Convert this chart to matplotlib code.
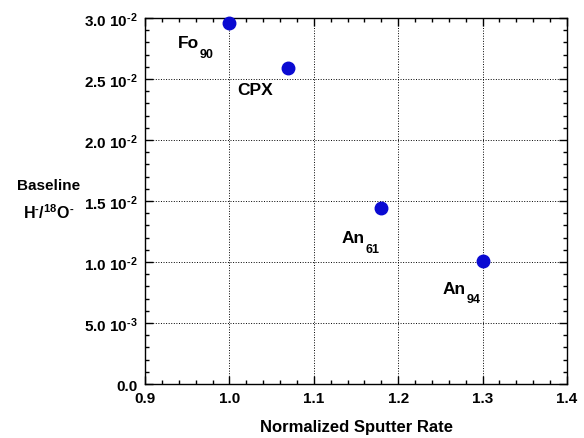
import matplotlib
matplotlib.use("Agg")
import matplotlib.pyplot as plt
from matplotlib.ticker import MultipleLocator, FixedLocator

plt.rcParams['font.family'] = ['Liberation Sans', 'DejaVu Sans']
plt.rcParams['font.weight'] = 'bold'
plt.rcParams['mathtext.fontset'] = 'custom'
plt.rcParams['mathtext.rm'] = 'Liberation Sans:bold'
plt.rcParams['mathtext.it'] = 'Liberation Sans:bold'
plt.rcParams['mathtext.bf'] = 'Liberation Sans:bold'
plt.rcParams['mathtext.default'] = 'rm'

# data
minerals = ['Fo', 'CPX', 'An', 'An']
subscripts = ['90', '', '61', '94']
sputter_rate = [1.00, 1.07, 1.18, 1.30]
h_o_ratio = [0.0296, 0.0259, 0.0144, 0.0101]
label_x = [0.939, 1.009, 1.133, 1.253]
label_y = [0.0276, 0.0238, 0.0116, 0.0075]

y_ticks = [0.0, 0.005, 0.010, 0.015, 0.020, 0.025, 0.030]
y_tick_labels = ['0.0', r'5.0 10$^{\text{-3}}$', r'1.0 10$^{\text{-2}}$', r'1.5 10$^{\text{-2}}$',
                 r'2.0 10$^{\text{-2}}$', r'2.5 10$^{\text{-2}}$', r'3.0 10$^{\text{-2}}$']

fig = plt.figure(figsize=(5.84, 4.39), dpi=100)
ax = fig.add_axes([0.2483, 0.123, 0.7226, 0.8337])

ax.plot(sputter_rate, h_o_ratio, 'o', color='#0a0ad2', markersize=9,
        linestyle='none', clip_on=False, zorder=3)

r = fig.canvas.get_renderer()
for name, sub, tx, ty in zip(minerals, subscripts, label_x, label_y):
    t = ax.text(tx, ty, name, fontsize=12.5, fontweight='bold', va='baseline', ha='left')
    if sub:
        w = t.get_window_extent(r).width * 72 / fig.dpi
        ax.annotate(sub, xy=(tx, ty), xytext=(w + 0.5, -7), textcoords='offset points',
                    fontsize=9, fontweight='bold', va='baseline', ha='left')

ax.set_xlim(0.9, 1.4)
ax.set_ylim(0.0, 0.030)
ax.xaxis.set_major_locator(MultipleLocator(0.1))
ax.xaxis.set_minor_locator(MultipleLocator(0.02))
ax.yaxis.set_major_locator(FixedLocator(y_ticks))
ax.yaxis.set_minor_locator(MultipleLocator(0.001))
ax.set_yticklabels(y_tick_labels)
ax.set_xticklabels(['%.1f' % v for v in ax.get_xticks()])

ax.tick_params(which='both', direction='in', top=True, right=True,
               labelsize=11, width=1)
ax.tick_params(which='major', length=6, pad=5)
ax.tick_params(which='minor', length=3)
for s in ax.spines.values():
    s.set_linewidth(1)

ax.grid(True, which='major', linestyle=':', color='black', linewidth=0.7)

ax.set_xlabel('Normalized Sputter Rate', fontsize=12, fontweight='bold', labelpad=10)
fig.text(0.083, 0.577, 'Baseline', fontsize=11, fontweight='bold', ha='center', va='center')
fig.text(0.083, 0.515, r'H$^{\text{-}}$/$^{18}$O$^{\text{-}}$', fontsize=11.5, fontweight='bold',
         ha='center', va='center')

fig.savefig('out.png', dpi=100)
